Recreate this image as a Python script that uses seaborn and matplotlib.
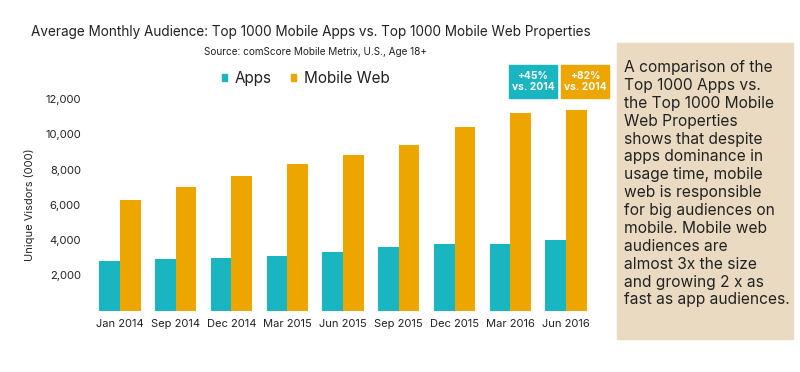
import matplotlib
matplotlib.use("Agg")
import matplotlib.pyplot as plt
import seaborn as sns
import pandas as pd
from matplotlib.patches import Rectangle

periods = ["Jan 2014", "Sep 2014", "Dec 2014", "Mar 2015", "Jun 2015",
           "Sep 2015", "Dec 2015", "Mar 2016", "Jun 2016"]
apps = [2800, 2900, 3000, 3100, 3300, 3600, 3750, 3800, 4000]
mobile_web = [6250, 7000, 7650, 8300, 8850, 9400, 10400, 11200, 11350]
series_names = ["Apps", "Mobile Web"]
y_ticks = [2000, 4000, 6000, 8000, 10000, 12000]
growth_labels = ["+45%\nvs. 2014", "+82%\nvs. 2014"]

TEAL = "#19B5C1"
ORANGE = "#EDA500"
BEIGE = "#E9DAC1"
TXT = "#222222"

df = pd.DataFrame({
    "period": periods * 2,
    "value": apps + mobile_web,
    "series": [series_names[0]] * len(periods) + [series_names[1]] * len(periods),
})

sns.set_theme(style="white")
plt.rcParams["font.family"] = ["Inter", "DejaVu Sans"]

fig = plt.figure(figsize=(8, 3.72), dpi=100)
ax = fig.add_axes([0.115, 0.165, 0.6275, 0.569])

sns.barplot(data=df, x="period", y="value", hue="series", order=periods,
            hue_order=series_names, palette=[TEAL, ORANGE], width=0.74,
            saturation=1, linewidth=0, ax=ax, legend=False)

ax.set_ylim(0, 12000)
ax.set_yticks(y_ticks)
ax.set_yticklabels([f"{v:,}" for v in y_ticks], fontsize=8, color=TXT)
ax.tick_params(axis="x", labelsize=8, colors=TXT, length=0, pad=6)
ax.tick_params(axis="y", length=0, pad=8)
ax.set_xlabel("")
ax.set_ylabel("Unique Visdors (000)", fontsize=8, color=TXT, labelpad=7)
for s in ax.spines.values():
    s.set_visible(False)
ax.grid(False)

# Legend
handles = [Rectangle((0, 0), 1, 1, color=TEAL), Rectangle((0, 0), 1, 1, color=ORANGE)]
fig.legend(handles, series_names, loc="center", bbox_to_anchor=(0.382, 0.788),
           ncol=2, frameon=False, fontsize=11, handlelength=0.33,
           handleheight=0.33, handletextpad=0.5, columnspacing=1.3,
           labelcolor=TXT)

# Titles
fig.text(0.389, 0.914, "Average Monthly Audience: Top 1000 Mobile Apps vs. Top 1000 Mobile Web Properties",
         ha="center", va="center", fontsize=9.75, color=TXT)
fig.text(0.394, 0.860, "Source: comScore Mobile Metrix, U.S., Age 18+",
         ha="center", va="center", fontsize=7.2, color=TXT)

# Growth boxes
box_specs = [(509, 557, TEAL), (561, 609, ORANGE)]
for (x0, x1, col), lab in zip(box_specs, growth_labels):
    fig.patches.append(Rectangle((x0 / 800, 1 - 98 / 372), (x1 - x0) / 800, 33 / 372,
                                 transform=fig.transFigure, color=col, zorder=2))
    fig.text((x0 + x1) / 2 / 800, 1 - 81.5 / 372, lab, ha="center", va="center",
             fontsize=7.4, color="white", fontweight="bold", linespacing=1.1, zorder=3)

# Side panel
fig.patches.append(Rectangle((617 / 800, 1 - 339 / 372), 176 / 800, 296 / 372,
                             transform=fig.transFigure, color=BEIGE, zorder=1))
side_text = ("A comparison of the\nTop 1000 Apps vs.\nthe Top 1000 Mobile\nWeb Properties\n"
             "shows that despite\napps dominance in\nusage time, mobile\nweb is responsible\n"
             "for big audiences on\nmobile. Mobile web\naudiences are\nalmost 3x the size\n"
             "and growing 2 x as\nfast as app audiences.")
fig.text(624 / 800, 1 - 60 / 372, side_text, ha="left", va="top", fontsize=11.2,
         color=TXT, linespacing=1.24, zorder=3)

fig.savefig("out.png", dpi=100, facecolor="white")
